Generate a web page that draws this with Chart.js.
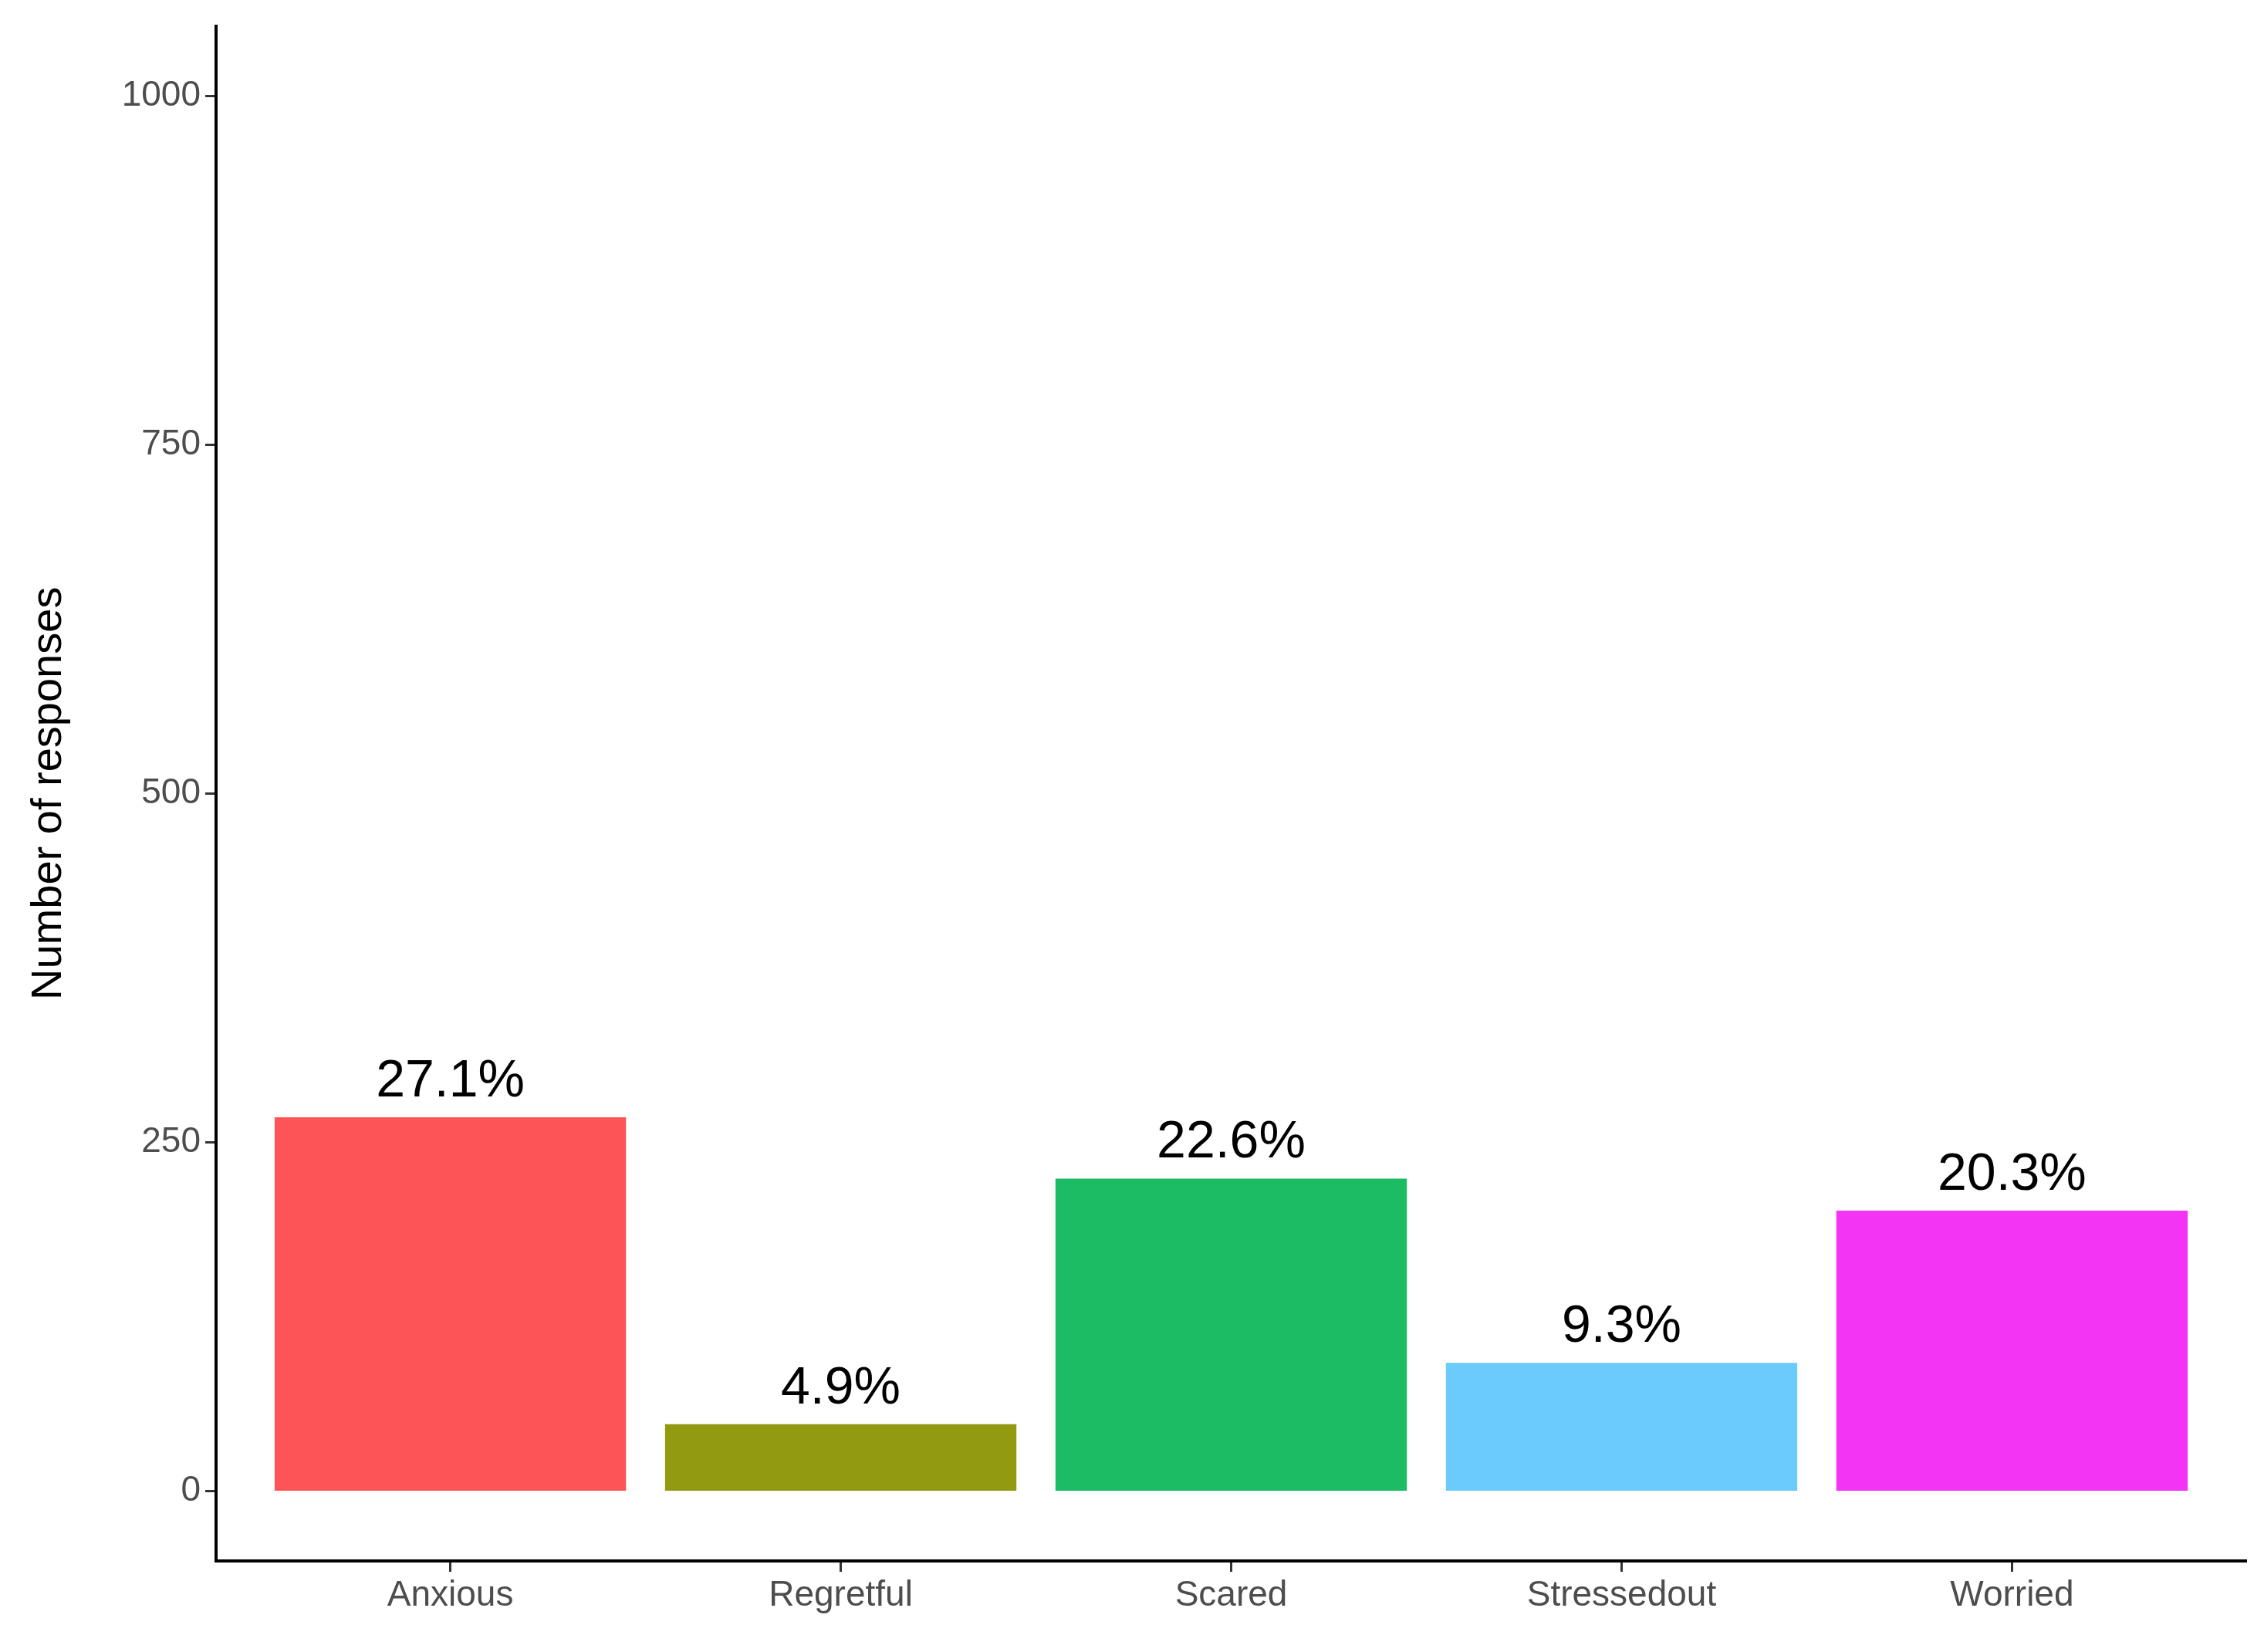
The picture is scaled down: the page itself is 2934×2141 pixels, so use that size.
<!DOCTYPE html>
<html><head><meta charset="utf-8">
<script src="https://cdn.jsdelivr.net/npm/chart.js@4"></script>
<style>html,body{margin:0;padding:0;background:#fff}#c{display:block}</style>
</head><body>
<canvas id="c" width="2934" height="2141"></canvas>
<script>
const categories = ["Anxious","Regretful","Scared","Stressedout","Worried"];
const counts = [268, 48, 224, 92, 201];
const percentLabels = ["27.1%","4.9%","22.6%","9.3%","20.3%"];
const yTicks = [0,250,500,750,1000];
const colors = ["#FC5457","#929A0F","#1BBC63","#6BCBFA","#F434F5"];

const labelPlugin = {
  id:'lbl',
  afterDatasetsDraw(chart){
    const ctx=chart.ctx; const meta=chart.getDatasetMeta(0);
    ctx.save(); ctx.font='68px "Liberation Sans", Arial'; ctx.fillStyle='#000';
    ctx.textAlign='center'; ctx.textBaseline='bottom';
    meta.data.forEach((b,i)=>ctx.fillText(percentLabels[i], b.x, b.y-12));
    ctx.restore();
  }
};
new Chart(document.getElementById('c'),{
  type:'bar',
  data:{datasets:[{data:categories.map((c,i)=>({x:i+1,y:counts[i]})),backgroundColor:colors,
    barPercentage:0.9,categoryPercentage:1}]},
  options:{responsive:false,animation:false,devicePixelRatio:1,
    layout:{padding:{left:30,right:23,top:0,bottom:0}},
    plugins:{legend:{display:false},tooltip:{enabled:false}},
    scales:{
      x:{type:'linear',min:0.4,max:5.6,offset:false,
        afterBuildTicks(s){s.ticks=categories.map((c,i)=>({value:i+1}));},
        afterFit(s){s.height=118;},
        ticks:{callback:(v)=>categories[v-1]||'',color:'#4d4d4d',font:{size:46,family:'"Liberation Sans", Arial'},padding:4,maxRotation:0,autoSkip:false},
        grid:{offset:false,drawOnChartArea:false,tickLength:14,tickColor:'#333',tickWidth:3},
        border:{color:'#000',width:4}},
      y:{min:-50,max:1050,
        afterBuildTicks(s){s.ticks=yTicks.map(v=>({value:v}));},
        afterFit(s){s.width=250;},
        ticks:{callback:(v)=>String(v),color:'#4d4d4d',font:{size:46,family:'"Liberation Sans", Arial'},padding:6},
        grid:{drawOnChartArea:false,tickLength:14,tickColor:'#333',tickWidth:3},
        border:{color:'#000',width:4},
        title:{display:true,text:'Number of responses',color:'#000',font:{size:56,family:'"Liberation Sans", Arial'},padding:{top:0,bottom:20}}}
    }},
  plugins:[labelPlugin]
});
</script>
</body></html>
